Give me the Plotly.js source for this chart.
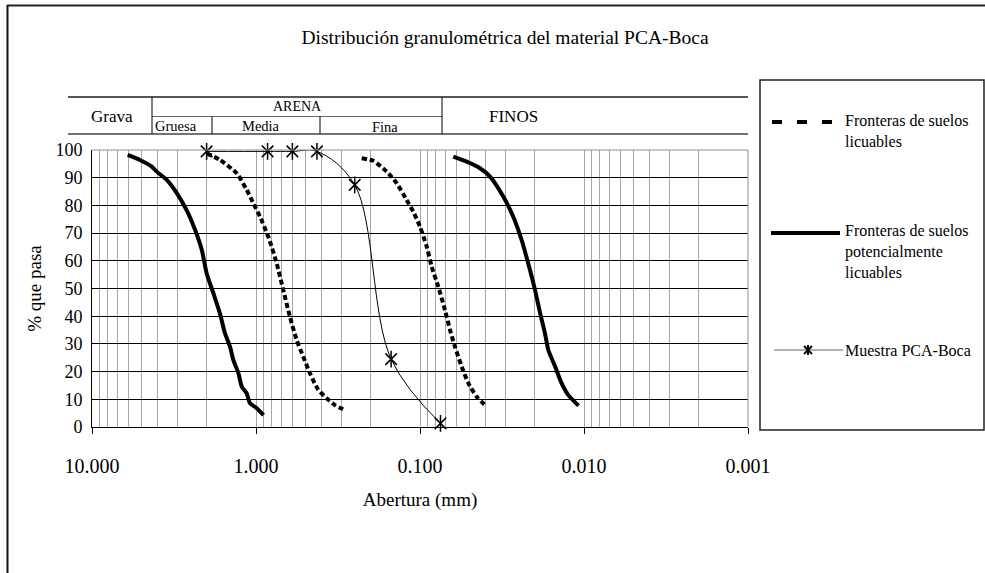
<!DOCTYPE html>
<html><head><meta charset="utf-8">
<script src="https://cdn.plot.ly/plotly-3.0.1.min.js"></script>
<style>html,body{margin:0;padding:0;background:#fff}#chart{width:985px;height:573px}</style>
</head><body><div id="chart"></div>
<script>
// ---------------- DATA ----------------
// Abertura (mm) vs % que pasa
const licuablesIzqX = [2.0, 1.658, 1.311, 1.139, 1.039, 0.945, 0.833, 0.748, 0.682, 0.621, 0.565, 0.515, 0.469, 0.417, 0.371, 0.330, 0.287];
const licuablesIzqY = [98.8, 96.4, 91.6, 85.6, 80.8, 75.9, 68.0, 59.1, 49.5, 39.8, 31.4, 25.4, 19.4, 13.4, 10.4, 7.9, 6.1];
const licuablesDerX = [0.2267, 0.1927, 0.1596, 0.1387, 0.1205, 0.1099, 0.1, 0.0910, 0.0849, 0.0773, 0.0704, 0.0656, 0.0612, 0.0557, 0.0507, 0.0451, 0.0392];
const licuablesDerY = [97.0, 96.1, 92.2, 88.0, 81.9, 77.7, 72.3, 65.1, 57.9, 50.6, 42.2, 35.0, 29.0, 21.8, 15.8, 10.9, 7.3];
const potencialIzqX = [6.06, 5.10, 4.32, 4.03, 3.50, 3.04, 2.65, 2.35, 2.14, 2.00, 1.82, 1.66, 1.545, 1.44, 1.375, 1.28, 1.22, 1.14, 1.089, 0.99, 0.90];
const potencialIzqY = [98.2, 96.4, 94.0, 92.2, 89.2, 84.4, 78.3, 71.1, 63.9, 55.5, 48.3, 41.0, 33.8, 29.0, 24.2, 19.4, 14.5, 12.2, 8.6, 6.8, 4.3];
const potencialDerX = [0.0627, 0.0519, 0.0431, 0.0374, 0.0310, 0.0270, 0.0240, 0.0219, 0.0199, 0.0185, 0.0173, 0.0165, 0.0150, 0.0137, 0.0125, 0.0108];
const potencialDerY = [97.6, 95.8, 93.4, 90.4, 83.1, 75.9, 67.5, 59.1, 49.5, 41.0, 33.8, 27.8, 21.8, 15.8, 11.6, 7.7];
const muestraX = [2.0, 0.85, 0.6, 0.425, 0.25, 0.15, 0.075];
const muestraY = [99.5, 99.5, 99.5, 99.5, 87.4, 24.5, 1.3];
const xTickVals = [10, 1, 0.1, 0.01, 0.001];
const xTickText = ['10.000', '1.000', '0.100', '0.010', '0.001'];
const seriesNames = ['Fronteras de suelos licuables', 'Fronteras de suelos potencialmente licuables', 'Muestra PCA-Boca'];
const legendLabels = ['Fronteras de suelos<br>licuables', 'Fronteras de suelos<br>potencialmente<br>licuables', 'Muestra PCA-Boca'];

// ---------------- LAYOUT HELPERS ----------------
const FW = 985, FH = 573, L = 92, R = 748, T = 150, B = 427;
const PX = p => (p - L) / (R - L);
const PY = p => (B - p) / (B - T);
const FONT = 'Liberation Serif, Times New Roman, serif';
function seg(x0, y0, x1, y1, color, width, dash) {
  return {type: 'line', xref: 'paper', yref: 'paper', x0: PX(x0), y0: PY(y0), x1: PX(x1), y1: PY(y1),
          line: {color: color, width: width, dash: dash || 'solid'}, layer: 'above'};
}
function txt(text, x, y, size, xanchor) {
  return {text: text, xref: 'paper', yref: 'paper', x: PX(x), y: PY(y), xanchor: xanchor || 'center',
          yanchor: 'middle', showarrow: false, align: 'left', font: {family: FONT, size: size, color: '#000'}};
}

// minor log gridlines
const minorVals = [];
for (let k = -3; k <= 0; k++) for (let m = 2; m <= 9; m++) minorVals.push(m * Math.pow(10, k));

const lineStyleDot = {color: '#000', width: 4, dash: '5px,3px', shape: 'spline', smoothing: 0.6};
const lineStyleSolid = {color: '#000', width: 4, shape: 'spline', smoothing: 0.6};

const traces = [
  {x: licuablesIzqX, y: licuablesIzqY, mode: 'lines', line: lineStyleDot, name: seriesNames[0], showlegend: false},
  {x: licuablesDerX, y: licuablesDerY, mode: 'lines', line: lineStyleDot, name: seriesNames[0], showlegend: false},
  {x: potencialIzqX, y: potencialIzqY, mode: 'lines', line: lineStyleSolid, name: seriesNames[1], showlegend: false},
  {x: potencialDerX, y: potencialDerY, mode: 'lines', line: lineStyleSolid, name: seriesNames[1], showlegend: false},
  {x: muestraX, y: muestraY, mode: 'lines+markers', name: seriesNames[2], showlegend: false, cliponaxis: false,
   line: {color: '#000', width: 1, shape: 'spline', smoothing: 1},
   marker: {symbol: 'x-thin-open', size: 11.5, color: '#000', line: {color: '#000', width: 1.5}}},
  {x: muestraX, y: muestraY, mode: 'markers', name: seriesNames[2], showlegend: false, cliponaxis: false, hoverinfo: 'skip',
   marker: {symbol: 'line-ns-open', size: 12, color: '#000', line: {color: '#000', width: 1.5}}}
];

const shapes = [
  // outer frame
  {type: 'line', xref: 'paper', yref: 'paper', x0: PX(7), y0: PY(5.5), x1: PX(990), y1: PY(5.5), line: {color: '#222', width: 2}},
  {type: 'line', xref: 'paper', yref: 'paper', x0: PX(7.5), y0: PY(5), x1: PX(7.5), y1: PY(580), line: {color: '#111', width: 2}},
  // plot area border (top/right gray)
  seg(L, T, R, T, '#909090', 1), seg(R, T, R, B, '#909090', 1),
  // header table
  seg(68, 97, 748, 97, '#555', 2), seg(68, 134, 748, 134, '#444', 1.5),
  seg(152, 116.5, 442, 116.5, '#666', 1.2),
  seg(152, 97, 152, 134, '#000', 1), seg(442, 97, 442, 134, '#000', 1),
  seg(212, 116.5, 212, 134, '#000', 1), seg(320, 116.5, 320, 134, '#000', 1),
  // legend box
  {type: 'rect', xref: 'paper', yref: 'paper', x0: PX(760), y0: PY(80), x1: PX(984), y1: PY(430), line: {color: '#222', width: 1.5}},
  // legend samples
  seg(772, 122, 834, 122, '#000', 4, '10px,15px'),
  seg(771, 233, 840, 233, '#000', 4),
  seg(774, 350, 843, 350, '#666', 1),
  seg(804, 346, 812, 354, '#000', 2), seg(804, 354, 812, 346, '#000', 2), seg(808, 345, 808, 355, '#000', 2)
];

const annotations = [
  txt('Grava', 112, 116, 17), txt('ARENA', 297, 106.5, 14),
  txt('Gruesa', 176, 126, 14.5), txt('Media', 261, 126, 14.5), txt('Fina', 385, 127, 14.5),
  txt('FINOS', 513, 116, 17),
  txt(legendLabels[0], 843, 131, 16, 'left'),
  txt(legendLabels[1], 843, 251, 16, 'left'),
  txt(legendLabels[2], 843, 350, 16, 'left')
];

const layout = {
  width: FW, height: FH, paper_bgcolor: '#fff', plot_bgcolor: '#fff',
  margin: {l: L, r: FW - R, t: T, b: FH - B, pad: 0},
  font: {family: FONT, size: 18, color: '#000'},
  showlegend: false,
  title: {text: 'Distribución granulométrica del material PCA-Boca', x: 505 / FW, xref: 'container', y: 1 - 37 / FH, yref: 'container',
          xanchor: 'center', yanchor: 'middle', font: {family: FONT, size: 19.5, color: '#000'}},
  xaxis: {type: 'log', range: [1, -3], tickvals: xTickVals, ticktext: xTickText, ticks: 'outside', ticklen: 6, tickcolor: '#000',
          showline: true, linecolor: '#000', linewidth: 1, showgrid: true, gridcolor: '#a6a6a6', gridwidth: 1, zeroline: false,
          ticklabelstandoff: 15, tickfont: {family: FONT, size: 20},
          minor: {tickvals: minorVals, showgrid: true, gridcolor: '#a6a6a6', gridwidth: 1, ticks: ''},
          title: {text: 'Abertura (mm)', standoff: 16, font: {family: FONT, size: 19}}, automargin: false, fixedrange: true},
  yaxis: {range: [0, 100], dtick: 10, tick0: 0, showline: true, linecolor: '#000', linewidth: 1, showgrid: true, gridcolor: '#000',
          gridwidth: 1, zeroline: false, ticks: '', ticklabelstandoff: 5, tickfont: {family: FONT, size: 18},
          title: {text: '% que pasa', standoff: 8, font: {family: FONT, size: 19}}, automargin: false, fixedrange: true},
  shapes: shapes, annotations: annotations
};

Plotly.newPlot('chart', traces, layout, {displayModeBar: false, staticPlot: true});
</script></body></html>
